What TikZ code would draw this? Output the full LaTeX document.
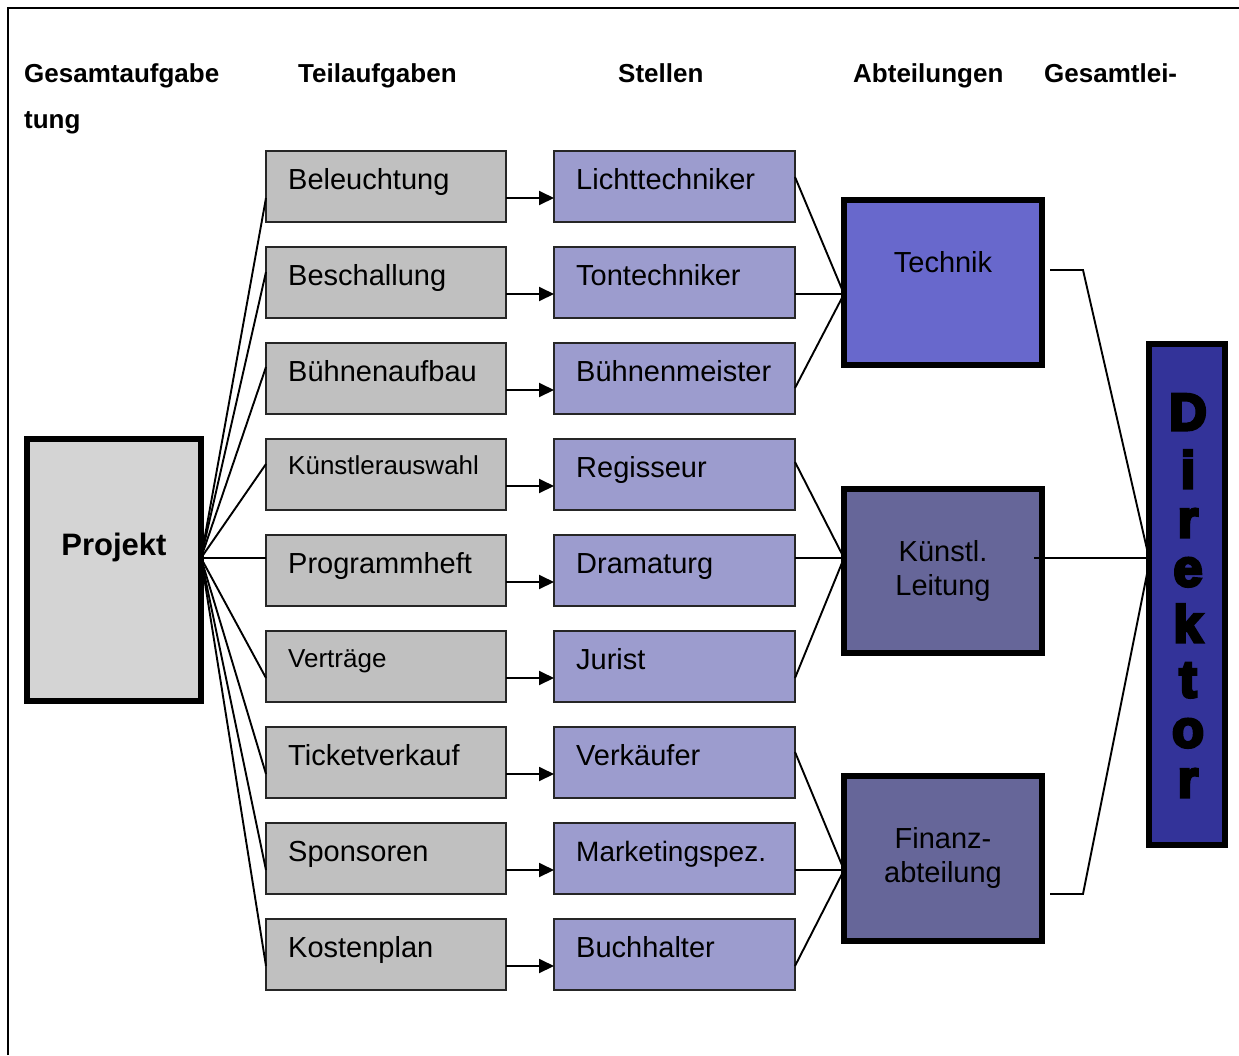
\documentclass[tikz,border=0pt]{standalone}
\usepackage{fontspec}
\setmainfont{Liberation Sans}
\newfontfamily\heavyfont{Liberation Sans}[BoldFeatures={FakeBold=6}]
\usetikzlibrary{calc,arrows.meta}

\definecolor{taskgray}{RGB}{192,192,192}
\definecolor{stellfill}{RGB}{156,156,206}
\definecolor{projfill}{RGB}{212,212,212}
\definecolor{technikfill}{RGB}{104,104,204}
\definecolor{abtfill}{RGB}{102,102,153}
\definecolor{dirfill}{RGB}{51,51,153}

\begin{document}
\begin{tikzpicture}[x=1pt,y=-1pt,
  box/.style={inner sep=0pt, outer sep=0pt, anchor=north west},
  taskbox/.style={box, draw=black!85, line width=1.5pt, fill=taskgray,
    minimum width=240pt, minimum height=71pt},
  stellbox/.style={box, draw=black!85, line width=1.5pt, fill=stellfill,
    minimum width=241pt, minimum height=71pt},
  heavybox/.style={box, draw=black, line width=6pt},
  boxtext/.style={anchor=base west, inner sep=0pt},
  centertext/.style={anchor=base, inner sep=0pt, font=\fontsize{29}{34}\selectfont},
  header/.style={anchor=base west, inner sep=0pt, font=\bfseries\fontsize{26}{30}\selectfont},
  conn/.style={line width=1.9pt, black},
  arrowconn/.style={conn, -{Triangle[length=15pt,width=14pt]}},
  dirletter/.style={anchor=base, inner sep=0pt, font=\heavyfont\bfseries\fontsize{52}{52}\selectfont}
]
\useasboundingbox (0,0) rectangle (1239,1055);

% page frame (left and top edge)
\draw[line width=2pt] (8,1055) -- (8,8) -- (1239,8);

% column headers
\node[header] (h1) at (24,82) {Gesamtaufgabe};
\node[header] (h2) at (298,82) {Teilaufgaben};
\node[header] (h3) at (618,82) {Stellen};
\node[header] (h4) at (853,82) {Abteilungen};
\node[header] (h5) at (1044,82) {Gesamtlei-};
\node[header] (h6) at (24,128) {tung};

% overall task
\node[heavybox, fill=projfill, minimum width=174pt, minimum height=262pt] (proj) at (27,439) {};
\node[anchor=base, inner sep=0pt, font=\bfseries\fontsize{31}{36}\selectfont] (projt)
  at ($(proj.north)+(0,116)$) {Projekt};

% sub-tasks and positions
\foreach [count=\i] \txt/\fs/\bl in {Beleuchtung/29/38, Beschallung/29/38,
    Bühnenaufbau/29/38, Künstlerauswahl/26/35, Programmheft/29/38,
    Verträge/26/36, Ticketverkauf/29/38, Sponsoren/29/38, Kostenplan/29/38} {
  \node[taskbox] (t\i) at (266,{151+96*(\i-1)}) {};
  \node[boxtext, font=\fontsize{\fs}{\fs}\selectfont] (tt\i) at ($(t\i.north west)+(22,\bl)$) {\txt};
}
\foreach [count=\i] \txt/\fs in {Lichttechniker/29, Tontechniker/29,
    Bühnenmeister/29, Regisseur/29, Dramaturg/29, Jurist/29,
    Verkäufer/29, Marketingspez./28, Buchhalter/29} {
  \node[stellbox] (s\i) at (554,{151+96*(\i-1)}) {};
  \node[boxtext, font=\fontsize{\fs}{\fs}\selectfont] (st\i) at ($(s\i.north west)+(22,38)$) {\txt};
}

% departments
\node[heavybox, fill=technikfill, minimum width=198pt, minimum height=165pt] (a1) at (844,200) {};
\node[heavybox, fill=abtfill, minimum width=198pt, minimum height=164pt] (a2) at (844,489) {};
\node[heavybox, fill=abtfill, minimum width=198pt, minimum height=165pt] (a3) at (844,776) {};
\node[centertext] (a1t) at ($(a1.north)+(0,72)$) {Technik};
\node[centertext] (a2t1) at ($(a2.north)+(0,72)$) {Künstl.};
\node[centertext] (a2t2) at ($(a2.north)+(0,106)$) {Leitung};
\node[centertext] (a3t1) at ($(a3.north)+(0,72)$) {Finanz-};
\node[centertext] (a3t2) at ($(a3.north)+(0,106)$) {abteilung};

% director
\node[heavybox, fill=dirfill, minimum width=76pt, minimum height=501pt] (dir) at (1149,344) {};
\foreach [count=\i] \c/\y in {D/430, i/488, r/537, e/586, k/642, t/697, o/747, r/797}
  \node[dirletter] (dl\i) at (1188,\y) {\c};

% overall task to sub-tasks
\foreach \i/\off in {1/47, 2/25, 3/24, 4/25, 5/23, 6/47, 7/47, 8/47, 9/47}
  \draw[conn] ($(proj.north east)+(0,119)$) -- ($(t\i.north west)+(0,\off)$);

% sub-tasks to positions
\foreach \i in {1,...,9}
  \draw[arrowconn] ($(t\i.north east)+(0,47)$) -- ($(s\i.north west)+(0,47)$);

% positions to departments
\foreach \i/\off/\a/\aoff in {1/26/a1/94, 2/47/a1/94, 3/45/a1/94,
    4/23/a2/69, 5/23/a2/69, 6/47/a2/69,
    7/25/a3/94, 8/47/a3/94, 9/47/a3/94}
  \draw[conn] ($(s\i.north east)+(0,\off)$) -- ($(\a.north west)+(0,\aoff)$);

% departments to director
\draw[conn] ($(a1.north east)+(8,70)$) -- ++(33,0) -- ($(dir.north west)+(0,214)$);
\draw[conn] ($(a2.north east)+(-8,69)$) -- ($(dir.north west)+(0,214)$);
\draw[conn] ($(a3.north east)+(8,118)$) -- ++(33,0) -- ($(dir.north west)+(0,220)$);
\end{tikzpicture}
\end{document}
